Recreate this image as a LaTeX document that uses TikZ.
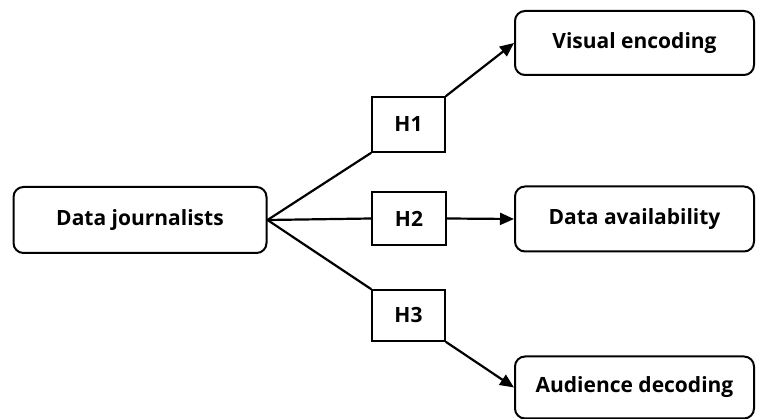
\documentclass[tikz,border=0pt]{standalone}
\usepackage{fontspec}
\setmainfont{Open Sans}
\usetikzlibrary{arrows.meta}
\begin{document}
\begin{tikzpicture}[x=1pt,y=-1pt,
  every node/.style={font=\fontsize{21}{24}\selectfont\bfseries, inner sep=0pt},
  mainbox/.style={draw, line width=2pt, rounded corners=10pt},
  hypbox/.style={draw, line width=1.6pt},
  link/.style={line width=2.2pt},
  arrowlink/.style={line width=2.2pt, -{Triangle[length=14pt,width=12pt]}}]
  \useasboundingbox (0,0) rectangle (758,419);
  % actor on the left
  \node[mainbox, minimum width=253pt, minimum height=66pt] (dj) at (140,220) {Data journalists};
  % hypotheses
  \node[hypbox, minimum width=73pt, minimum height=55pt] (h1) at (408.5,124.5) {H1};
  \node[hypbox, minimum width=74pt, minimum height=53pt] (h2) at (409,218.5) {H2};
  \node[hypbox, minimum width=73pt, minimum height=51pt] (h3) at (408.5,315.5) {H3};
  % outcomes on the right
  \node[mainbox, minimum width=239pt, minimum height=64pt] (ve) at (634.5,43) {Visual encoding};
  \node[mainbox, minimum width=239pt, minimum height=65pt] (da) at (634.5,219) {Data availability};
  \node[mainbox, minimum width=239pt, minimum height=62pt] (ad) at (634.5,387.5) {Audience decoding};
  % connectors
  \draw[link] (dj.east) -- (h1.south west);
  \draw[link] (dj.east) -- (h2.west);
  \draw[link] (dj.east) -- (h3.north west);
  \draw[arrowlink] (h1.north east) -- (ve.west);
  \draw[arrowlink] (h2.east) -- (da.west);
  \draw[arrowlink] (h3.south east) -- (ad.west);
\end{tikzpicture}
\end{document}
